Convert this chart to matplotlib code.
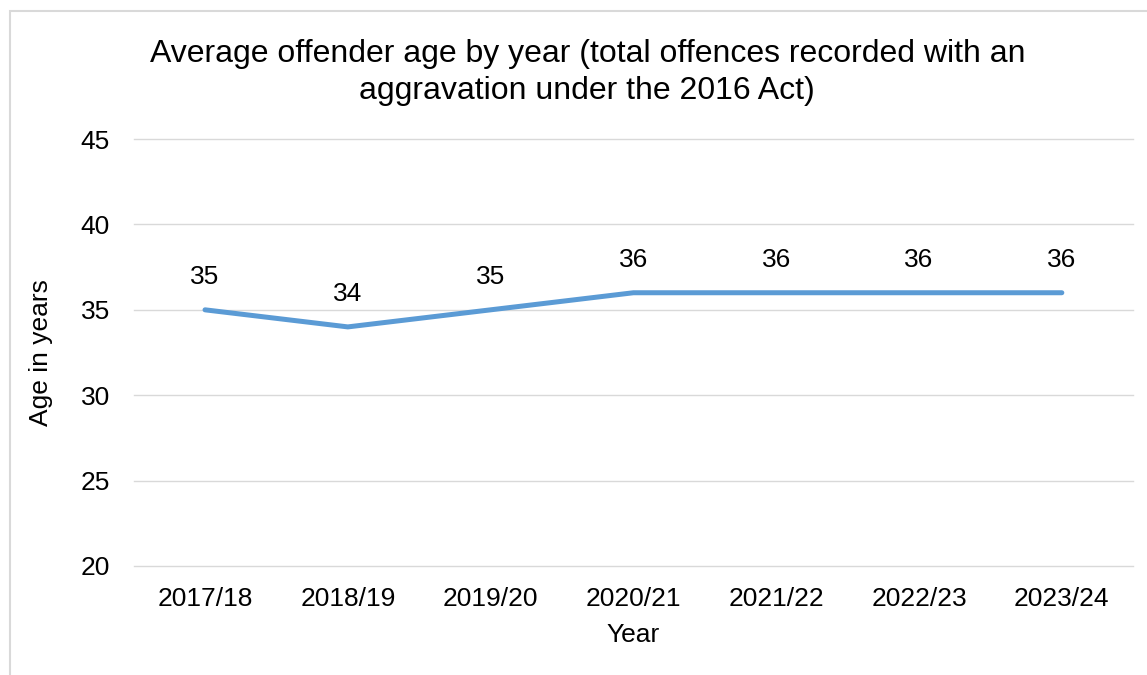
import matplotlib
matplotlib.use("Agg")
import matplotlib.pyplot as plt
from matplotlib.patches import Rectangle

years = ["2017/18", "2018/19", "2019/20", "2020/21", "2021/22", "2022/23", "2023/24"]
avg_age = [35, 34, 35, 36, 36, 36, 36]
y_ticks = [20, 25, 30, 35, 40, 45]

plt.rcParams["font.family"] = ["Liberation Sans", "DejaVu Sans"]
fs = 19

fig = plt.figure(figsize=(11.47, 6.75), dpi=100)
ax = fig.add_axes([0.1165, 0.1615, 0.8715, 0.6325])

# chart area border (only left and top edges show)
fig.patches.append(Rectangle((10 / 1147, -0.1), 1.2, 1.1 - 11 / 675, transform=fig.transFigure,
                             fill=False, edgecolor="#D9D9D9", linewidth=1.5))

x = list(range(len(years)))
for t in y_ticks:
    ax.axhline(t, color="#D9D9D9", linewidth=1, clip_on=False, zorder=1)
ax.plot(x, avg_age, color="#5B9BD5", linewidth=3.6, solid_capstyle="round",
        solid_joinstyle="round", zorder=3)
for xi, v in zip(x, avg_age):
    ax.annotate(str(v), (xi, v), xytext=(0, 15), textcoords="offset points",
                ha="center", va="bottom", fontsize=fs)

ax.set_xlim(-0.5, len(years) - 0.5)
ax.set_ylim(20, 45)
ax.set_yticks(y_ticks)
ax.set_xticks(x)
ax.set_xticklabels(years)
ax.tick_params(axis="both", length=0, labelsize=fs)
ax.tick_params(axis="y", pad=17)
ax.tick_params(axis="x", pad=15)
for s in ax.spines.values():
    s.set_visible(False)

ax.set_xlabel("Year", fontsize=fs, labelpad=9)
ax.set_ylabel("Age in years", fontsize=fs, labelpad=20)
fig.text(0.512, 0.892, "Average offender age by year (total offences recorded with an\naggravation under the 2016 Act)",
         ha="center", va="center", fontsize=23, linespacing=1.3)

fig.savefig("out.png", dpi=100)
